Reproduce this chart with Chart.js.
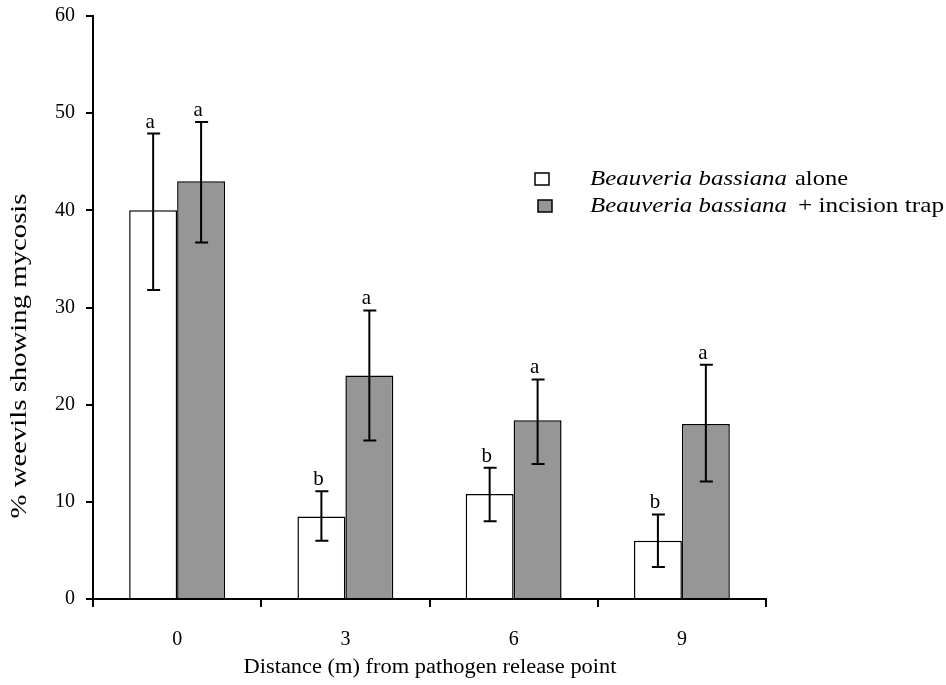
<!DOCTYPE html>
<html>
<head>
<meta charset="utf-8">
<script src="https://cdn.jsdelivr.net/npm/chart.js@4.4.1/dist/chart.umd.min.js"></script>
<style>
  body { margin: 0; background: #fff; }
  canvas { display: block; }
</style>
</head>
<body>
<canvas id="chart" width="946" height="685"></canvas>
<script>
const categories = ["0", "3", "6", "9"];
const aloneMean = [40.0, 8.5, 10.8, 6.0];
const aloneHigh = [47.9, 11.1, 13.5, 8.7];
const aloneLow = [31.8, 6.0, 8.0, 3.3];
const trapMean = [43.0, 23.0, 18.4, 18.0];
const trapHigh = [49.1, 29.7, 22.6, 24.1];
const trapLow = [36.7, 16.3, 13.9, 12.1];
const aloneLetters = ["a", "b", "b", "b"];
const trapLetters = ["a", "a", "a", "a"];
const yTicks = [0, 10, 20, 30, 40, 50, 60];

const FONT = "'Liberation Serif', 'Times New Roman', serif";

// draw text stretched horizontally so it fills a given width (the original figure's type is wide)
function fitText(ctx, text, x, y, font, width) {
  ctx.save();
  ctx.font = font;
  const w = ctx.measureText(text).width;
  ctx.translate(x, y);
  ctx.scale(width / w, 1);
  ctx.textAlign = "left";
  ctx.fillText(text, 0, 0);
  ctx.restore();
}

const extras = {
  id: "extras",
  afterDatasetsDraw(chart) {
    const ctx = chart.ctx;
    const y = chart.scales.y;
    const groups = [
      { hi: aloneHigh, lo: aloneLow, letters: aloneLetters },
      { hi: trapHigh, lo: trapLow, letters: trapLetters }
    ];
    ctx.save();
    groups.forEach((g, di) => {
      chart.getDatasetMeta(di).data.forEach((bar, i) => {
        const x = bar.x;
        const top = y.getPixelForValue(g.hi[i]);
        const bot = y.getPixelForValue(g.lo[i]);
        ctx.strokeStyle = "#000";
        ctx.lineWidth = 2;
        ctx.beginPath();
        ctx.moveTo(x, top);
        ctx.lineTo(x, bot);
        ctx.moveTo(x - 6, top);
        ctx.lineTo(x + 7, top);
        ctx.moveTo(x - 6, bot);
        ctx.lineTo(x + 7, bot);
        ctx.stroke();
        ctx.fillStyle = "#000";
        ctx.font = "21px " + FONT;
        ctx.textAlign = "center";
        ctx.textBaseline = "alphabetic";
        ctx.fillText(g.letters[i], x - 3, top - 6);
      });
    });

    // legend
    const items = [
      { fill: "#fff", rest: "alone", restX: 795, restW: 53 },
      { fill: "#969696", rest: "+ incision trap", restX: 798, restW: 146 }
    ];
    ctx.textBaseline = "middle";
    items.forEach((it, k) => {
      const cy = 179 + k * 27;
      const bx = 535 + k * 3;
      ctx.fillStyle = it.fill;
      ctx.fillRect(bx, cy - 6, 14, 12);
      ctx.strokeStyle = "#000";
      ctx.lineWidth = 1.5;
      ctx.strokeRect(bx, cy - 6, 14, 12);
      ctx.fillStyle = "#000";
      fitText(ctx, "Beauveria bassiana", 590, cy, "italic 22px " + FONT, 197);
      fitText(ctx, it.rest, it.restX, cy, "22px " + FONT, it.restW);
    });

    // axis titles
    const xt = "Distance (m) from pathogen release point";
    fitText(ctx, xt, 430 - 373 / 2, 668, "20px " + FONT, 373);
    ctx.translate(20, 356);
    ctx.rotate(-Math.PI / 2);
    fitText(ctx, "% weevils showing mycosis", -325 / 2, 0, "24px " + FONT, 325);
    ctx.restore();
  }
};

new Chart(document.getElementById("chart"), {
  type: "bar",
  data: {
    labels: categories,
    datasets: [
      {
        label: "Beauveria bassiana alone",
        data: aloneMean,
        backgroundColor: "#ffffff",
        borderColor: "#000",
        borderWidth: 1.5
      },
      {
        label: "Beauveria bassiana + incision trap",
        data: trapMean,
        backgroundColor: "#969696",
        borderColor: "#000",
        borderWidth: 1.5
      }
    ]
  },
  options: {
    responsive: false,
    animation: false,
    devicePixelRatio: 1,
    layout: { padding: { top: 16, right: 180, bottom: 0, left: 0 } },
    plugins: {
      legend: { display: false },
      tooltip: { enabled: false }
    },
    datasets: {
      bar: { categoryPercentage: 0.57, barPercentage: 1 }
    },
    scales: {
      x: {
        offset: true,
        grid: {
          offset: true,
          drawOnChartArea: false,
          tickLength: 8,
          color: "#000",
          lineWidth: 2
        },
        border: { color: "#000", width: 2 },
        ticks: {
          color: "#000",
          font: { family: FONT, size: 20 },
          padding: 21
        },
        afterFit(scale) {
          scale.height = 86;
          scale.paddingLeft = 0;
          scale.paddingRight = 0;
        }
      },
      y: {
        min: 0,
        max: 60,
        afterBuildTicks(scale) { scale.ticks = yTicks.map(v => ({ value: v })); },
        grid: {
          drawOnChartArea: false,
          tickLength: 7,
          color: "#000",
          lineWidth: 2
        },
        border: { color: "#000", width: 2 },
        ticks: {
          color: "#000",
          font: { family: FONT, size: 20 },
          padding: 11
        },
        afterFit(scale) {
          scale.width = 93;
          scale.paddingTop = 0;
          scale.paddingBottom = 0;
        }
      }
    }
  },
  plugins: [extras]
});
</script>
</body>
</html>
